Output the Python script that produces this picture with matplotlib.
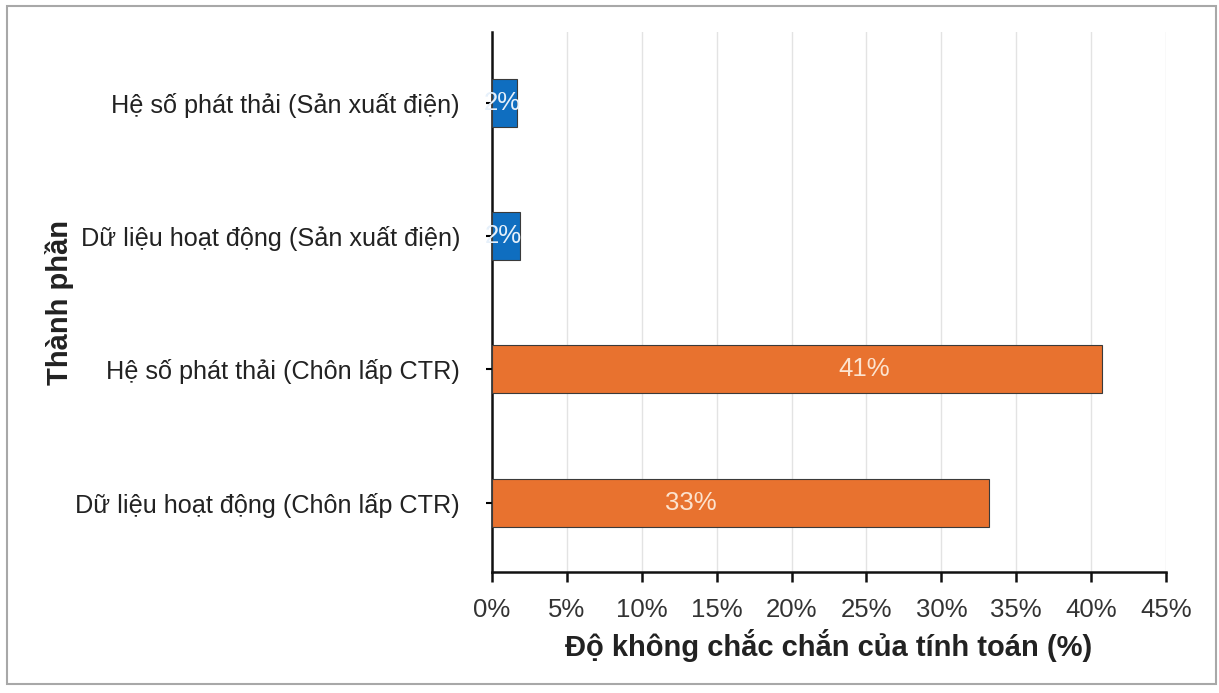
import matplotlib
matplotlib.use("Agg")
import matplotlib.pyplot as plt
from matplotlib.patches import Rectangle
from matplotlib.ticker import FuncFormatter, MultipleLocator

# Components, bottom to top
categories = [
    "Dữ liệu hoạt động (Chôn lấp CTR)",
    "Hệ số phát thải (Chôn lấp CTR)",
    "Dữ liệu hoạt động (Sản xuất điện)",
    "Hệ số phát thải (Sản xuất điện)",
]
uncertainty = [33.2, 40.7, 1.9, 1.7]
value_labels = ["33%", "41%", "2%", "2%"]
bar_colors = ["#E8722F", "#E8722F", "#0F6EC0", "#0F6EC0"]
label_colors = ["#FCE3CF", "#FCE3CF", "#E6F0FA", "#E6F0FA"]
# where each label sits along its bar (fraction of bar length)
label_frac = [0.40, 0.61, 0.40, 0.40]

plt.rcParams["font.family"] = ["Liberation Sans", "DejaVu Sans"]

W, H = 1219, 693
fig = plt.figure(figsize=(W / 100, H / 100), dpi=100)
ax = fig.add_axes([492 / W, 1 - 572 / H, (1166 - 492) / W, (572 - 32) / H])

y = range(len(categories))
ax.barh(y, uncertainty, height=0.36, color=bar_colors,
        edgecolor="#3a3a3a", linewidth=0.8, zorder=3)

for i, v in enumerate(uncertainty):
    ax.text(v * label_frac[i], i, value_labels[i], ha="center", va="center",
            fontsize=18.5, color=label_colors[i], zorder=4)

ax.set_xlim(0, 45)
ax.set_ylim(-0.52, 3.53)
ax.xaxis.set_major_locator(MultipleLocator(5))
ax.xaxis.set_major_formatter(FuncFormatter(lambda v, _: f"{v:.0f}%"))
ax.set_yticks(list(y))
ax.set_yticklabels(categories)

ax.grid(axis="x", color="#E3E3E3", linewidth=1.0, zorder=0)
ax.set_axisbelow(True)
for side in ("top", "right"):
    ax.spines[side].set_visible(False)
for side in ("left", "bottom"):
    ax.spines[side].set_linewidth(1.8)
    ax.spines[side].set_color("#111111")

ax.tick_params(axis="x", direction="out", length=7, width=1.8,
               labelsize=18.5, pad=12, colors="#111111", labelcolor="#333333")
ax.tick_params(axis="y", direction="out", length=4, width=1.5,
               labelsize=18.2, pad=19, labelcolor="#222222")

ax.set_xlabel("Độ không chắc chắn của tính toán (%)", fontsize=21,
              fontweight="bold", labelpad=5, color="#222222")
fig.text(60 / W, 1 - 302 / H, "Thành phần", rotation=90, fontsize=21,
         fontweight="bold", ha="center", va="center", color="#222222")

# light grey frame around the chart area
fig.patches.append(Rectangle((7 / W, 1 - 684 / H), (1216 - 7) / W, (684 - 6) / H,
                             transform=fig.transFigure, fill=False,
                             edgecolor="#A8A8A8", linewidth=1.5))

fig.savefig("out.png", dpi=100)
